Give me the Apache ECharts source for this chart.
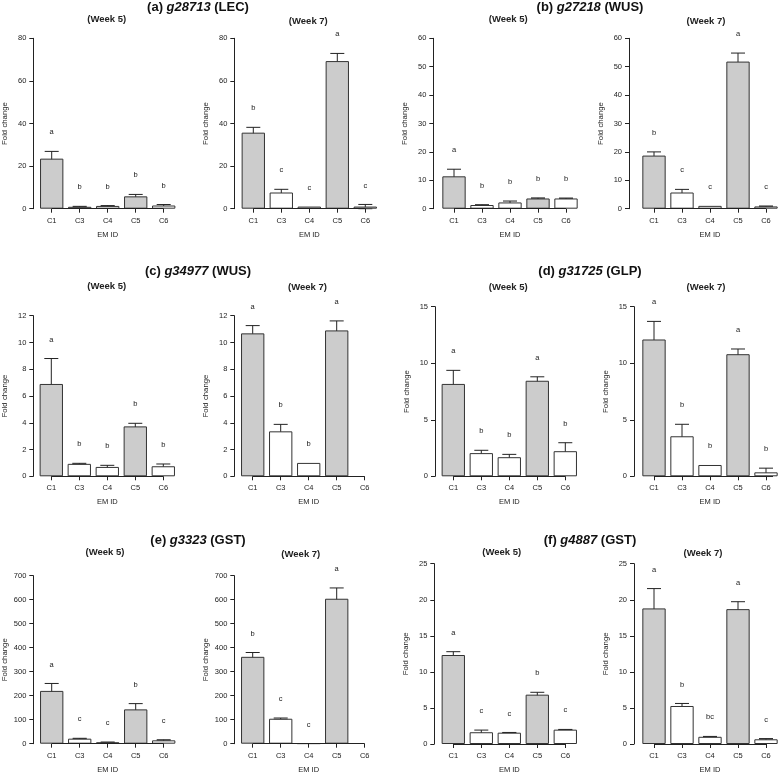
<!DOCTYPE html>
<html>
<head>
<meta charset="utf-8">
<script src="https://cdn.jsdelivr.net/npm/echarts@6/dist/echarts.min.js"></script>
<style>
html,body{margin:0;padding:0;background:#fff;}
#chart{width:780px;height:776px;}
</style>
</head>
<body>
<div id="chart"></div>
<script>
// ---------- data ----------
const categories = ['C1', 'C3', 'C4', 'C5', 'C6'];
const weekTitles = ['(Week 5)', '(Week 7)'];
const panelIds = ['(a)', '(b)', '(c)', '(d)', '(e)', '(f)'];
const geneNames = ['g28713', 'g27218', 'g34977', 'g31725', 'g3323', 'g4887'];
const geneTags = ['(LEC)', '(WUS)', '(WUS)', '(GLP)', '(GST)', '(GST)'];
const yMax = [80, 60, 12, 15, 700, 25];
const yStep = [20, 10, 2, 5, 100, 5];
const barIsGrey = [true, false, false, true, false];

const a5Mean = [23.5, 0.9, 1.3, 5.8, 1.5];
const a5Se = [3.4, 0.2, 0.15, 0.9, 0.45];
const a5Letters = ['a', 'b', 'b', 'b', 'b'];
const a7Mean = [35.7, 7.6, 1.0, 69.3, 1.0];
const a7Se = [2.5, 1.5, 0, 3.6, 1.0];
const a7Letters = ['b', 'c', 'c', 'a', 'c'];

const b5Mean = [11.4, 1.3, 2.2, 3.6, 3.6];
const b5Se = [2.5, 0.1, 0.5, 0.2, 0.15];
const b5Letters = ['a', 'b', 'b', 'b', 'b'];
const b7Mean = [18.7, 5.7, 1.0, 51.8, 0.8];
const b7Se = [1.3, 1.1, 0, 3.0, 0.15];
const b7Letters = ['b', 'c', 'c', 'a', 'c'];

const c5Mean = [6.9, 0.93, 0.7, 3.73, 0.75];
const c5Se = [1.9, 0.04, 0.12, 0.23, 0.17];
const c5Letters = ['a', 'b', 'b', 'b', 'b'];
const c7Mean = [10.68, 3.36, 1.0, 10.9, null];
const c7Se = [0.58, 0.52, 0, 0.71, null];
const c7Letters = ['a', 'b', 'b', 'a', ''];

const d5Mean = [8.17, 2.05, 1.69, 8.45, 2.22];
const d5Se = [1.2, 0.25, 0.25, 0.35, 0.75];
const d5Letters = ['a', 'b', 'b', 'a', 'b'];
const d7Mean = [12.1, 3.54, 1.0, 10.8, 0.35];
const d7Se = [1.6, 1.06, 0, 0.46, 0.37];
const d7Letters = ['a', 'b', 'b', 'a', 'b'];

const e5Mean = [220, 21, 6, 143, 14];
const e5Se = [31, 1.5, 1, 24, 2.5];
const e5Letters = ['a', 'c', 'c', 'b', 'c'];
const e7Mean = [362, 104, 1, 604, null];
const e7Se = [18, 3, 0, 45, null];
const e7Letters = ['b', 'c', 'c', 'a', ''];

const f5Mean = [12.34, 1.63, 1.57, 6.84, 1.99];
const f5Se = [0.46, 0.3, 0.03, 0.33, 0.03];
const f5Letters = ['a', 'c', 'c', 'b', 'c'];
const f7Mean = [18.8, 5.27, 1.0, 18.7, 0.65];
const f7Se = [2.75, 0.35, 0.05, 1.03, 0.1];
const f7Letters = ['a', 'b', 'bc', 'a', 'c'];

// ---------- layout (pixels) ----------
const panels = [
  {g: 0, w: 0, mean: a5Mean, se: a5Se, letters: a5Letters, cx1: 51.7, axisX: 33.3, top: 38.3, zero: 208.7, wt: [106.7, 19.5]},
  {g: 0, w: 1, mean: a7Mean, se: a7Se, letters: a7Letters, cx1: 253.3, axisX: 234.3, top: 38.3, zero: 208.7, wt: [308.3, 21]},
  {g: 1, w: 0, mean: b5Mean, se: b5Se, letters: b5Letters, cx1: 454, axisX: 433.3, top: 38.3, zero: 208.7, wt: [508.2, 19.5]},
  {g: 1, w: 1, mean: b7Mean, se: b7Se, letters: b7Letters, cx1: 654, axisX: 629, top: 38.3, zero: 208.7, wt: [706, 21]},
  {g: 2, w: 0, mean: c5Mean, se: c5Se, letters: c5Letters, cx1: 51.3, axisX: 33.3, top: 315.7, zero: 476.3, wt: [106.7, 286.7]},
  {g: 2, w: 1, mean: c7Mean, se: c7Se, letters: c7Letters, cx1: 252.7, axisX: 234.3, top: 315.7, zero: 476.3, wt: [307.5, 287.3]},
  {g: 3, w: 0, mean: d5Mean, se: d5Se, letters: d5Letters, cx1: 453.3, axisX: 435, top: 306.7, zero: 476.3, wt: [508.2, 287.3]},
  {g: 3, w: 1, mean: d7Mean, se: d7Se, letters: d7Letters, cx1: 654, axisX: 634, top: 306.7, zero: 476.3, wt: [706, 287.3]},
  {g: 4, w: 0, mean: e5Mean, se: e5Se, letters: e5Letters, cx1: 51.7, axisX: 33.3, top: 575.7, zero: 743.7, wt: [105, 552.7]},
  {g: 4, w: 1, mean: e7Mean, se: e7Se, letters: e7Letters, cx1: 252.7, axisX: 234.3, top: 575.7, zero: 743.7, wt: [300.8, 554]},
  {g: 5, w: 0, mean: f5Mean, se: f5Se, letters: f5Letters, cx1: 453.3, axisX: 434.3, top: 563.7, zero: 744, wt: [501.7, 552.7]},
  {g: 5, w: 1, mean: f7Mean, se: f7Se, letters: f7Letters, cx1: 654, axisX: 634, top: 563.7, zero: 744, wt: [703, 553.3]}
];
const mainTitlePos = [[198, 7], [590, 7], [198, 271.7], [590, 271.7], [198, 540], [590, 540]];
const band = 28;
const FONT = '"Liberation Sans", Arial, Helvetica, sans-serif';
const INK = '#222';
const GREY = '#cccccc';

const grids = [], xAxes = [], yAxes = [], series = [], graphics = [];

panels.forEach((p, k) => {
  const left = p.cx1 - band / 2;
  grids.push({left: left, top: p.top, width: band * 5, height: p.zero - p.top, containLabel: false});
  xAxes.push({
    type: 'category', gridIndex: k, data: categories,
    axisLine: {show: false},
    axisTick: {show: true, alignWithLabel: true, length: 4, lineStyle: {color: INK, width: 1}},
    axisLabel: {fontSize: 7.5, color: INK, fontFamily: FONT, margin: 8},
    name: 'EM ID', nameLocation: 'middle', nameGap: 22,
    nameTextStyle: {fontSize: 7.5, color: INK, fontFamily: FONT}
  });
  yAxes.push({
    type: 'value', gridIndex: k, min: 0, max: yMax[p.g], interval: yStep[p.g],
    offset: left - p.axisX,
    axisLine: {show: true, lineStyle: {color: INK, width: 1}},
    axisTick: {show: true, length: 4, lineStyle: {color: INK, width: 1}},
    axisLabel: {fontSize: 7.5, color: INK, fontFamily: FONT, margin: 7},
    splitLine: {show: false},
    name: 'Fold change', nameLocation: 'middle', nameGap: 24, nameRotate: 90,
    nameTextStyle: {fontSize: 7.8, color: INK, fontFamily: FONT}
  });
  series.push({
    type: 'bar', xAxisIndex: k, yAxisIndex: k,
    barWidth: band * 0.833,
    data: p.mean.map((v, i) => ({
      value: v,
      itemStyle: {color: barIsGrey[i] ? GREY : '#ffffff', borderColor: '#333', borderWidth: 1}
    })),
    silent: true,
    markLine: {
      silent: true, symbol: ['none', 'none'],
      lineStyle: {color: INK, width: 1, type: 'solid'},
      label: {show: false},
      data: [[{coord: [categories[0], 0]}, {coord: [categories[categories.length - 1], 0]}]]
    }
  });
  series.push({
    type: 'custom', xAxisIndex: k, yAxisIndex: k, silent: true,
    data: p.mean.map((v, i) => (v == null || !p.se[i]) ? [i, null, null] : [i, v - p.se[i], v + p.se[i]]),
    renderItem: function (params, api) {
      if (api.value(1) == null || isNaN(api.value(1))) return null;
      const lo = api.coord([api.value(0), api.value(1)]);
      const hi = api.coord([api.value(0), api.value(2)]);
      const hw = 7;
      const st = {stroke: INK, lineWidth: 1};
      return {type: 'group', children: [
        {type: 'line', shape: {x1: lo[0], y1: lo[1], x2: hi[0], y2: hi[1]}, style: st},
        {type: 'line', shape: {x1: lo[0] - hw, y1: lo[1], x2: lo[0] + hw, y2: lo[1]}, style: st},
        {type: 'line', shape: {x1: hi[0] - hw, y1: hi[1], x2: hi[0] + hw, y2: hi[1]}, style: st}
      ]};
    },
    clip: false
  });
  series.push({
    type: 'custom', xAxisIndex: k, yAxisIndex: k, silent: true,
    data: p.mean.map((v, i) => [i, v == null ? null : v + (p.se[i] || 0)]),
    renderItem: function (params, api) {
      const val = api.value(1);
      const txt = p.letters[api.value(0)];
      if (val == null || isNaN(val) || !txt) return null;
      const pt = api.coord([api.value(0), val]);
      return {type: 'text', style: {text: txt, x: pt[0], y: pt[1] - 19, align: 'center', verticalAlign: 'middle',
        font: '7.5px ' + FONT, fill: INK}};
    },
    clip: false
  });
  graphics.push({type: 'text', style: {text: weekTitles[p.w], x: p.wt[0], y: p.wt[1], align: 'center', verticalAlign: 'middle',
    font: 'bold 9.5px ' + FONT, fill: INK}});
});

mainTitlePos.forEach((pos, g) => {
  graphics.push({type: 'text', style: {
    text: '{n|' + panelIds[g] + ' }{i|' + geneNames[g] + '}{n| ' + geneTags[g] + '}',
    x: pos[0], y: pos[1], align: 'center', verticalAlign: 'middle',
    rich: {
      n: {fontFamily: FONT, fontWeight: 'bold', fontSize: 13, fill: '#111'},
      i: {fontFamily: FONT, fontWeight: 'bold', fontStyle: 'italic', fontSize: 13, fill: '#111'}
    }
  }});
});

const chart = echarts.init(document.getElementById('chart'), null, {renderer: 'canvas'});
chart.setOption({
  animation: false,
  backgroundColor: '#fff',
  grid: grids, xAxis: xAxes, yAxis: yAxes, series: series, graphic: graphics
});
</script>
</body>
</html>
